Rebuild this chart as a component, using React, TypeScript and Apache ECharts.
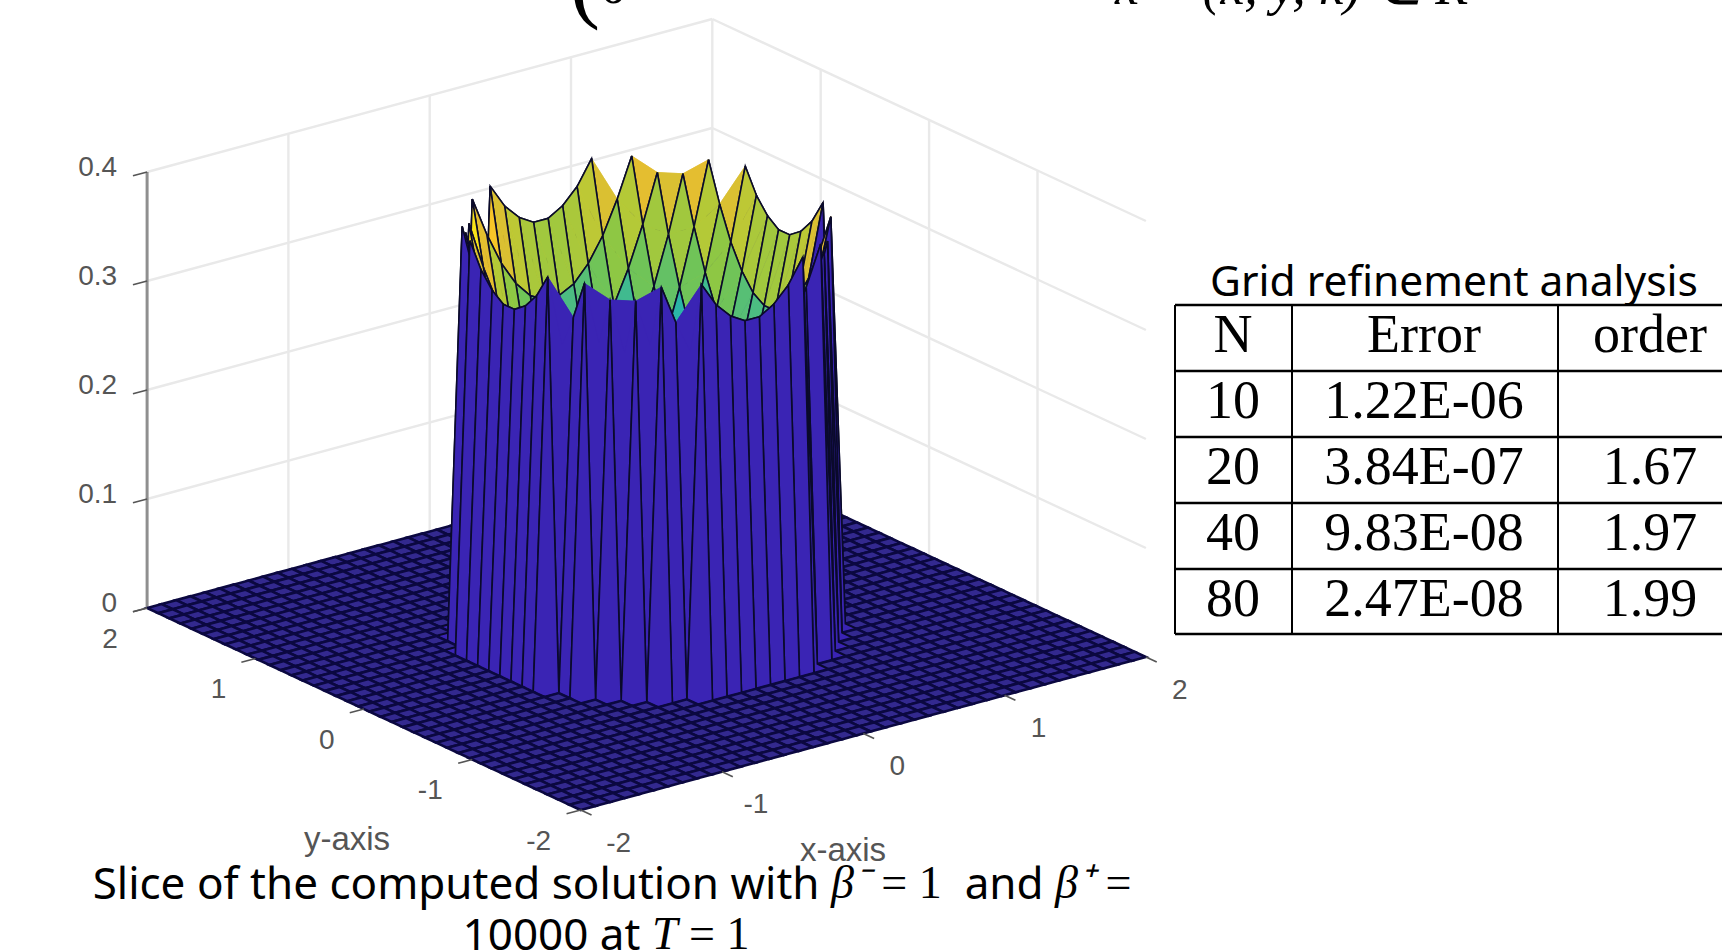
import React, { useEffect, useRef } from "react";
import * as echarts from "echarts";

// Surface heights: one quadrant of the 40x40 mesh.
// Row = distance of the y node from the centre, column = distance of the x node from the centre.
// Every point not listed is on the floor (0).
const zRow0 = [0.002, 0.009, 0.024, 0.046, 0.075, 0.112, 0.156, 0.208, 0.267, 0.333];
const zRow1 = [0.009, 0.017, 0.031, 0.053, 0.083, 0.12, 0.164, 0.215, 0.274, 0.341];
const zRow2 = [0.024, 0.031, 0.046, 0.068, 0.098, 0.134, 0.179, 0.23, 0.289, 0.355];
const zRow3 = [0.046, 0.053, 0.068, 0.09, 0.12, 0.157, 0.201, 0.252, 0.311, 0.377];
const zRow4 = [0.075, 0.083, 0.098, 0.12, 0.149, 0.186, 0.23, 0.282, 0.341];
const zRow5 = [0.112, 0.12, 0.134, 0.157, 0.186, 0.223, 0.267, 0.319, 0.377];
const zRow6 = [0.156, 0.164, 0.179, 0.201, 0.23, 0.267, 0.311, 0.363];
const zRow7 = [0.208, 0.215, 0.23, 0.252, 0.282, 0.319, 0.363];
const zRow8 = [0.267, 0.274, 0.289, 0.311, 0.341, 0.377];
const zRow9 = [0.333, 0.341, 0.355, 0.377];
const zRows = [zRow0, zRow1, zRow2, zRow3, zRow4, zRow5, zRow6, zRow7, zRow8, zRow9];

const xTicks = [-2, -1, 0, 1, 2];
const yTicks = [-2, -1, 0, 1, 2];
const zTicks = [0, 0.1, 0.2, 0.3, 0.4];
const xAxisName = "x-axis";
const yAxisName = "y-axis";

const parula = ["#352a87", "#0f5cdd", "#1481d6", "#06a4ca", "#2eb7a4", "#7cc64a", "#b8c936", "#f6b92e", "#f9fb0e"];

const tableTitle = "Grid refinement analysis";
const tableHeader = ["N", "Error", "order"];
const tableN = ["10", "20", "40", "80"];
const tableError = ["1.22E-06", "3.84E-07", "9.83E-08", "2.47E-08"];
const tableOrder = ["", "1.67", "1.97", "1.99"];

const CX = 646.5, CY = 632.5;
const project = (x: number, y: number, z: number) => [
  CX + 141.3 * x - 108.4 * y,
  CY - 38.25 * x - 50.5 * y - 1090 * z,
];

const CELLS = 39;
const H = 4 / CELLS;
const heightAt = (i: number, j: number) => {
  const row = zRows[j >= 20 ? j - 20 : 19 - j];
  if (!row) return 0;
  const v = row[i >= 20 ? i - 20 : 19 - i];
  return v === undefined ? 0 : v;
};

const hex = (c: string) => [1, 3, 5].map((k) => parseInt(c.slice(k, k + 2), 16));
const colourOf = (z: number) => {
  const t = Math.min(1, Math.max(0, z / 0.38)) * (parula.length - 1);
  const a = Math.floor(t), b = Math.min(parula.length - 1, a + 1), f = t - a;
  const ca = hex(parula[a]), cb = hex(parula[b]);
  return `rgb(${ca.map((v, k) => Math.round(v + (cb[k] - v) * f)).join(",")})`;
};

// far cells first, so that nearer cells cover them
const cellData: number[][] = [];
for (let i = CELLS - 1; i >= 0; i--) for (let j = CELLS - 1; j >= 0; j--) cellData.push([i, j]);

const wallLines: number[][] = [];
// [x0,y0,z0,x1,y1,z1]
zTicks.slice(1).forEach((z) => {
  wallLines.push([-2, 2, z, 2, 2, z]);
  wallLines.push([2, 2, z, 2, -2, z]);
});
[-1, 0, 1].forEach((x) => wallLines.push([x, 2, 0, x, 2, 0.4]));
[-1, 0, 1].forEach((y) => wallLines.push([2, y, 0, 2, y, 0.4]));
wallLines.push([2, 2, 0, 2, 2, 0.4]);

const tickLines: number[][] = [];
zTicks.forEach((z) => tickLines.push([-2, 2, z, -2.1, 2, z]));
yTicks.forEach((y) => tickLines.push([-2, y, 0, -2.1, y, 0]));
xTicks.forEach((x) => tickLines.push([x, -2, 0, x, -2.1, 0]));

const labelFont = '"Liberation Sans", Arial, sans-serif';
const labels: (string | number)[][] = [];
zTicks.forEach((z) => labels.push([String(z), -2, 2, z, -30, -6, "right"]));
yTicks.forEach((y) => labels.push([String(y), -2, y, 0, y < 0 ? -42 : -37, 30, "center"]));
xTicks.forEach((x) => labels.push([String(x), x, -2, 0, x === -2 ? 38 : 34, 32, "center"]));

const lineItem = (api: any, d: number[], stroke: string, lineWidth: number) => {
  const [x1, y1] = api.coord(project(d[0], d[1], d[2]));
  const [x2, y2] = api.coord(project(d[3], d[4], d[5]));
  return { type: "line", shape: { x1, y1, x2, y2 }, style: { stroke, lineWidth }, silent: true };
};

function buildTable() {
  const sans = '"Noto Sans", sans-serif';
  const serif = '"Liberation Serif", serif';
  const g: any[] = [];
  const colX = [1175, 1292, 1558];
  const colC = [1233, 1424, 1650];
  const rowY = [305, 371, 437, 503, 569, 634];
  const txt = (text: string, x: number, y: number, fontSize: number, fontFamily: string, extra: any = {}) =>
    g.push({ type: "text", x, y, silent: true, style: { text, fontSize, fontFamily, fill: "#000", align: "center", verticalAlign: "middle", ...extra } });
  rowY.forEach((y) => g.push({ type: "line", silent: true, shape: { x1: 1175, y1: y, x2: 1722, y2: y }, style: { stroke: "#000", lineWidth: 2.4 } }));
  colX.forEach((x) => g.push({ type: "line", silent: true, shape: { x1: x, y1: 305, x2: x, y2: 634 }, style: { stroke: "#000", lineWidth: 2 } }));
  txt(tableTitle, 1454, 279, 42.5, sans);
  tableHeader.forEach((h, k) => txt(h, colC[k], 334, 54, serif));
  tableN.forEach((v, r) => {
    txt(v, colC[0], rowY[r + 1] + 29, 54, serif);
    txt(tableError[r], colC[1], rowY[r + 1] + 29, 54, serif);
    if (tableOrder[r]) txt(tableOrder[r], colC[2], rowY[r + 1] + 29, 54, serif);
  });
  const rich = {
    m: { fontFamily: serif, fontStyle: "italic", fontSize: 46, fill: "#000" },
    n: { fontFamily: serif, fontSize: 46, fill: "#000" },
    t: { fontFamily: sans, fontSize: 44, fill: "#000" },
  };
  g.push({ type: "text", x: 612, y: 882, silent: true, style: { text: "{t|Slice of the computed solution with }{m|β⁻}{n|\u00a0=\u00a01}{t|  and }{m|β⁺}{n|\u00a0=}", rich, align: "center", verticalAlign: "middle" } });
  g.push({ type: "text", x: 606, y: 933, silent: true, style: { text: "{t|10000 at }{m|T}{n|\u00a0=\u00a01}", rich, align: "center", verticalAlign: "middle" } });
  // equation cut off by the top edge of the page
  g.push({ type: "text", x: 570, y: -65, silent: true, style: { text: "(", fontSize: 90, fontFamily: serif, fill: "#000" } });
  g.push({ type: "text", x: 600, y: -42, silent: true, style: { text: "0", fontSize: 54, fontFamily: serif, fill: "#000" } });
  g.push({ type: "text", x: 1115, y: -41, silent: true, style: { text: "x = (x, y, k) ∈ R", fontSize: 54, fontFamily: serif, fontStyle: "italic", fill: "#000" } });
  return g;
}

export default function App() {
  const ref = useRef<HTMLDivElement>(null);
  useEffect(() => {
    const chart = echarts.init(ref.current!, undefined, { renderer: "svg" });
    chart.setOption({
      animation: false,
      backgroundColor: "#fff",
      grid: { left: 0, right: 0, top: 0, bottom: 0 },
      xAxis: { type: "value", min: 0, max: 1722, show: false },
      yAxis: { type: "value", min: 0, max: 950, inverse: true, show: false },
      graphic: buildTable(),
      series: [
        {
          type: "custom", coordinateSystem: "cartesian2d", clip: false, silent: true,
          data: wallLines,
          renderItem: (p: any, api: any) => lineItem(api, wallLines[p.dataIndex], "#e9e9e9", 2.4),
        },
        {
          type: "custom", coordinateSystem: "cartesian2d", clip: false, silent: true,
          data: [[-2, 2, 0, -2, 2, 0.4]],
          renderItem: (p: any, api: any) => lineItem(api, [-2, 2, 0, -2, 2, 0.4], "#8f8f8f", 3),
        },
        {
          type: "custom", coordinateSystem: "cartesian2d", clip: false, silent: true,
          data: cellData,
          renderItem: (p: any, api: any) => {
            const [i, j] = cellData[p.dataIndex];
            const corners = [[i, j], [i + 1, j], [i + 1, j + 1], [i, j + 1]];
            const zs = corners.map(([a, b]) => heightAt(a, b));
            const points = corners.map(([a, b], k) => api.coord(project(-2 + a * H, -2 + b * H, zs[k])));
            const top = Math.max(...zs);
            if (top === 0) {
              return { type: "polygon", shape: { points }, style: { fill: "#33298f", stroke: "#0b0840", lineWidth: 2.6 }, silent: true };
            }
            const fill = zs[0] === 0 || zs[1] === 0 ? "#3a24b4" : colourOf(zs[0]);
            const edge = { stroke: "#0a0a2a", lineWidth: 1.6 };
            const [a, b, c, d] = points;
            if (zs[1] > 0 && zs[3] > 0) {
              // two tall opposite corners: the quad is filled as two triangles that share their diagonal
              const frontWall = zs[0] === 0;
              return {
                type: "group", silent: true,
                children: [
                  { type: "polygon", shape: { points: [a, b, d] }, style: { fill, stroke: fill, lineWidth: 0.6 }, silent: true },
                  { type: "polygon", shape: { points: [b, c, d] }, style: { fill, stroke: fill, lineWidth: 0.6 }, silent: true },
                  frontWall
                    ? { type: "polyline", shape: { points: [d, a, b] }, style: { fill: "none", ...edge }, silent: true }
                    : { type: "polygon", shape: { points }, style: { fill: "none", ...edge }, silent: true },
                ],
              };
            }
            return { type: "polygon", shape: { points }, style: { fill, ...edge }, silent: true };
          },
        },
        {
          type: "custom", coordinateSystem: "cartesian2d", clip: false, silent: true,
          data: tickLines,
          renderItem: (p: any, api: any) => lineItem(api, tickLines[p.dataIndex], "#555", 1.6),
        },
        {
          type: "custom", coordinateSystem: "cartesian2d", clip: false, silent: true,
          data: labels.map((l, k) => [k, 0]),
          renderItem: (p: any, api: any) => {
            const l = labels[p.dataIndex];
            const [sx, sy] = api.coord(project(l[1] as number, l[2] as number, l[3] as number));
            return {
              type: "text", silent: true,
              style: {
                text: l[0], x: sx + (l[4] as number), y: sy + (l[5] as number), fontSize: 28, fontFamily: labelFont, fill: "#555",
                align: l[6], verticalAlign: "middle",
              },
            };
          },
        },
        {
          type: "custom", coordinateSystem: "cartesian2d", clip: false, silent: true,
          data: [[0, 0], [1, 0]],
          renderItem: (p: any, api: any) => {
            const name = p.dataIndex === 0 ? yAxisName : xAxisName;
            const [sx, sy] = api.coord(p.dataIndex === 0 ? [347, 838] : [843, 849]);
            return { type: "text", silent: true, style: { text: name, x: sx, y: sy, fontSize: 33, fontFamily: labelFont, fill: "#555", align: "center", verticalAlign: "middle" } };
          },
        },
      ],
    });
    return () => chart.dispose();
  }, []);
  return <div ref={ref} style={{ position: "fixed", left: 0, top: 0, width: 1722, height: 950 }} />;
}
